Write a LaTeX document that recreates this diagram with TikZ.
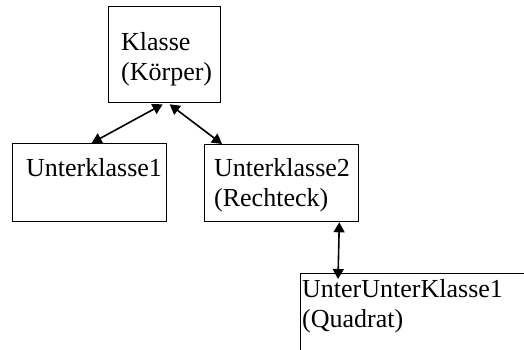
\documentclass[tikz,border=0pt]{standalone}
\usepackage{fontspec}
\setmainfont{Liberation Serif}
\usetikzlibrary{arrows.meta,calc}
\begin{document}
\begin{tikzpicture}[x=1pt,y=-1pt,
  box/.style={draw=black,line width=1.3pt,rectangle,inner sep=0pt,anchor=north west},
  txt/.style={anchor=base west,inner sep=0pt,font=\fontsize{26}{30}\selectfont},
  arr/.style={line width=1.6pt,{Triangle[length=10pt,width=11pt]}-{Triangle[length=10pt,width=11pt]}}]
\useasboundingbox (0,0) rectangle (524,349);
\clip (0,0) rectangle (524,349);
\fill[white] (0,0) rectangle (524,349);
% boxes
\node[box,minimum width=112pt,minimum height=96pt] (k) at (108,6) {};
\node[box,minimum width=154pt,minimum height=78pt] (u1) at (12,143) {};
\node[box,minimum width=154pt,minimum height=77pt] (u2) at (204,144) {};
\node[box,minimum width=280pt,minimum height=120pt] (uu) at (300,273) {};
% texts
\node[txt] (k1) at (121,50) {Klasse};
\node[txt] (k2) at (121,80) {(Körper)};
\node[txt] (u1a) at (26,176) {Unterklasse1};
\node[txt] (u2a) at (214,176) {Unterklasse2};
\node[txt] (u2b) at (214,206) {(Rechteck)};
\node[txt] (uua) at (302,297) {UnterUnterKlasse1};
\node[txt] (uub) at (302,327) {(Quadrat)};
% connectors
\draw[arr] ($(k.south)+(-2,1)$) -- ($(u1.north)+(2,0)$);
\draw[arr] ($(k.south)+(5,1)$) -- ($(u2.north west)+(18,0)$);
\draw[arr] ($(u2.south east)+(-20,0)$) -- ($(uu.north west)+(38,6)$);
\end{tikzpicture}
\end{document}
